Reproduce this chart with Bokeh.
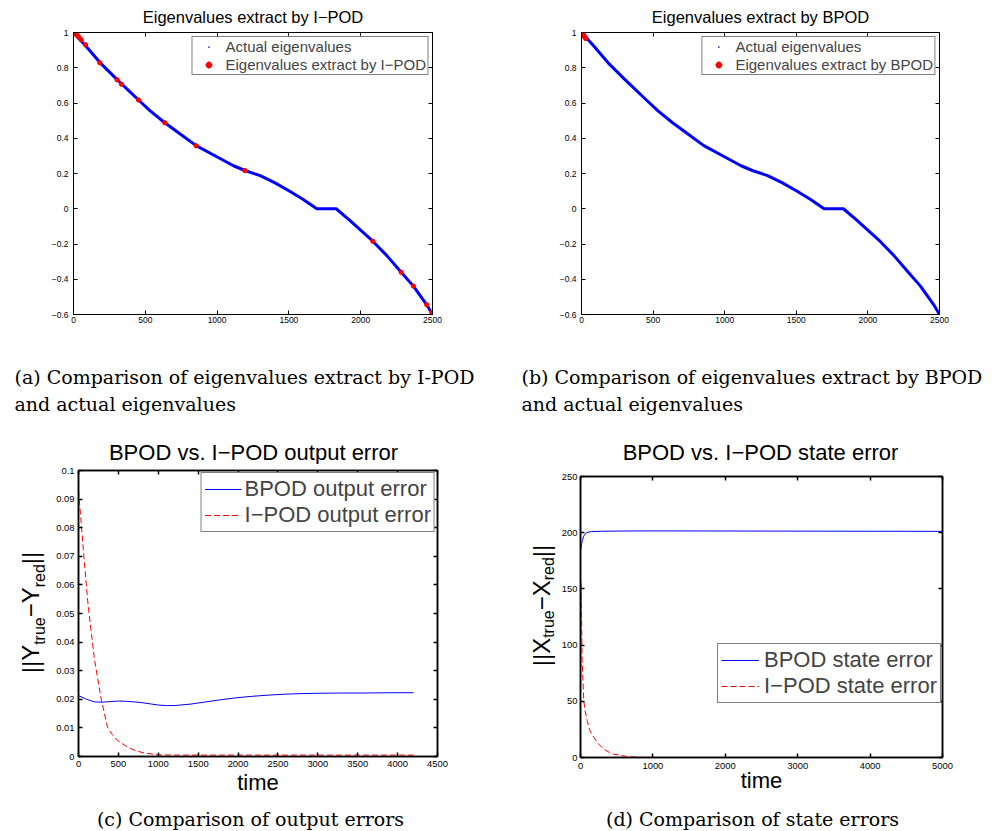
import numpy as np
from bokeh.plotting import figure
from bokeh.layouts import column, row
from bokeh.models import Range1d, LinearAxis, FixedTicker, Label, Legend, LegendItem
from bokeh.embed import file_html
from bokeh.resources import INLINE

SANS = "Liberation Sans"
SERIF = "DejaVu Serif"
BLUE = "#0000ff"
RED = "#ff0000"
BASE_SHIFT = 0.35   # distance (em) from the text-box middle down to the baseline

# ---------------- data: (a)/(b) eigenvalues ----------------
eig_index = [0, 81, 186, 302, 453, 534, 636, 743, 854, 998, 1114, 1193, 1300, 1400, 1500,
             1600, 1694, 1829, 1926, 2084, 2182, 2282, 2367, 2460, 2500]
eig_actual = [1.0, 0.928, 0.828, 0.734, 0.617, 0.555, 0.488, 0.424, 0.358, 0.295, 0.244, 0.217,
              0.188, 0.148, 0.102, 0.052, 0.0, 0.0, -0.068, -0.184, -0.266, -0.360, -0.439,
              -0.545, -0.600]
ipod_index = [2, 14, 26, 37, 54, 84, 183, 304, 334, 453, 636, 854, 1193, 2084, 2282, 2367, 2460, 2495]
ipod_eig = [1.0, 0.993, 0.983, 0.974, 0.959, 0.930, 0.828, 0.732, 0.707, 0.617, 0.488, 0.358,
            0.217, -0.184, -0.360, -0.439, -0.545, -0.587]
bpod_index = [0, 5, 10, 15, 20, 25, 30]
bpod_eig = [1.0, 0.995, 0.990, 0.985, 0.978, 0.972, 0.966]
eig_xticks = [0, 500, 1000, 1500, 2000, 2500]
eig_xlabels = ["0", "500", "1000", "1500", "2000", "2500"]
eig_yticks = [-0.6, -0.4, -0.2, 0.0, 0.2, 0.4, 0.6, 0.8, 1.0]
eig_ylabels = ["\u22120.6", "\u22120.4", "\u22120.2", "0", "0.2", "0.4", "0.6", "0.8", "1"]

# ---------------- data: (c) output error ----------------
out_t_bpod = [0, 100, 200, 300, 400, 500, 600, 700, 800, 900, 1000, 1100, 1200, 1400, 1600,
              1800, 2000, 2200, 2400, 2600, 2800, 3000, 3300, 3600, 3900, 4200]
out_err_bpod = [0.0213, 0.0200, 0.0191, 0.0190, 0.0192, 0.0194, 0.0193, 0.0191, 0.0188, 0.0184,
                0.0180, 0.0178, 0.0178, 0.0183, 0.0191, 0.0199, 0.0206, 0.0211, 0.0215, 0.0218,
                0.0220, 0.0221, 0.0222, 0.0222, 0.0223, 0.0223]
out_t_ipod = [0, 30, 70, 120, 200, 280, 363, 420, 488, 614, 700, 822, 1000, 1200, 1500, 2000,
              2500, 3000, 3500, 4200]
out_err_ipod = [0.093, 0.083, 0.069, 0.053, 0.034, 0.0207, 0.0103, 0.0078, 0.0056, 0.0033,
                0.0022, 0.0012, 0.0006, 0.0005, 0.0005, 0.0005, 0.0005, 0.0005, 0.0005, 0.0005]
out_xticks = [0, 500, 1000, 1500, 2000, 2500, 3000, 3500, 4000, 4500]
out_xlabels = ["0", "500", "1000", "1500", "2000", "2500", "3000", "3500", "4000", "4500"]
out_yticks = [0.0, 0.01, 0.02, 0.03, 0.04, 0.05, 0.06, 0.07, 0.08, 0.09, 0.1]
out_ylabels = ["0", "0.01", "0.02", "0.03", "0.04", "0.05", "0.06", "0.07", "0.08", "0.09", "0.1"]

# ---------------- data: (d) state error ----------------
st_t_bpod = [0, 10, 25, 45, 80, 150, 300, 600, 1000, 2000, 3000, 4000, 5000]
st_err_bpod = [183, 188, 193, 197, 200, 201, 201.3, 201.5, 201.6, 201.5, 201.4, 201.3, 201.2]
st_t_ipod = [0, 6, 12, 22, 45, 60, 91, 130, 183, 250, 320, 400, 458, 540, 618, 700, 801, 1000,
             2000, 3000, 4000, 5000]
st_err_ipod = [0, 157, 140, 87, 51, 43, 33, 24, 18, 12, 7.5, 4.5, 3.0, 2.0, 1.2, 0.6, 0.3, 0.1,
               0.05, 0.05, 0.05, 0.05]
st_xticks = [0, 1000, 2000, 3000, 4000, 5000]
st_xlabels = ["0", "1000", "2000", "3000", "4000", "5000"]
st_yticks = [0, 50, 100, 150, 200, 250]
st_ylabels = ["0", "50", "100", "150", "200", "250"]


def style_axis(ax, ticks, labels, size, standoff, lw, show=True):
    ax.ticker = FixedTicker(ticks=ticks)
    if show:
        ax.major_label_overrides = dict(zip(ticks, labels))
        ax.major_label_text_font = SANS
        ax.major_label_text_font_size = f"{size}px"
        ax.major_label_text_color = "black"
        ax.major_label_standoff = standoff
    else:
        ax.major_label_text_font_size = "1px"
        ax.major_label_text_color = None
        ax.major_label_standoff = 0
    ax.major_tick_in = 4
    ax.major_tick_out = 0
    ax.minor_tick_line_color = None
    ax.axis_line_color = "black"
    ax.major_tick_line_color = "black"
    ax.axis_line_width = lw
    ax.major_tick_line_width = lw


def panel(fig_px, fig_py, fig_w, fig_h, frame, xr, yr, xt, xl, yt, yl, tsize, xs, ys, lw):
    fl, ft, fw, fh = frame
    p = figure(width=fig_w, height=fig_h, x_range=Range1d(*xr), y_range=Range1d(*yr),
               title=None, toolbar_location=None, output_backend="svg", frame_align=False,
               min_border_left=fl - fig_px, min_border_top=ft - fig_py,
               min_border_right=fig_px + fig_w - fl - fw,
               min_border_bottom=fig_py + fig_h - ft - fh)
    p.xgrid.grid_line_color = None
    p.ygrid.grid_line_color = None
    p.outline_line_color = "black"
    p.outline_line_width = lw
    p.background_fill_color = "white"
    p.border_fill_color = "white"
    style_axis(p.below[0], xt, xl, tsize, xs, lw)
    style_axis(p.left[0], yt, yl, tsize, ys, lw)
    top = LinearAxis()
    style_axis(top, xt, xl, tsize, 0, lw, show=False)
    p.add_layout(top, "above")
    right = LinearAxis()
    style_axis(right, yt, yl, tsize, 0, lw, show=False)
    p.add_layout(right, "right")
    return p


def x_title(p, text, standoff):
    ax = p.below[0]
    ax.axis_label = text
    ax.axis_label_text_font = SANS
    ax.axis_label_text_font_size = "22px"
    ax.axis_label_text_font_style = "normal"
    ax.axis_label_text_color = "black"
    ax.axis_label_standoff = standoff


def text_fig(x0, y0, w, h, items):
    """A blank strip whose data coordinates equal page pixels (y downward).
    Items give the text baseline position; the label is anchored at its middle."""
    p = figure(width=w, height=h, x_range=Range1d(x0, x0 + w), y_range=Range1d(y0 + h, y0),
               x_axis_type=None, y_axis_type=None, title=None, toolbar_location=None,
               output_backend="svg", min_border=0, frame_align=False)
    p.outline_line_color = None
    p.background_fill_color = "white"
    p.border_fill_color = "white"
    for px, py, s, size, font, align, angle in items:
        if angle == 0.0:
            lx, ly = px, py - BASE_SHIFT * size
        else:
            lx, ly = px - BASE_SHIFT * size, py
        p.add_layout(Label(x=lx, y=ly, text=s, text_font=font, text_font_size=f"{size}px",
                           text_align=align, text_baseline="middle", angle=angle,
                           text_color="black"))
    return p


def ylabel_items(base_x, sub_x, center_y, ch, size=24, sub=16):
    parts = [("||" + ch, size, base_x, 1.187), ("true", sub, sub_x, 1.723),
             ("\u2212" + ch, size, base_x, 1.251), ("red", sub, sub_x, 1.445),
             ("||", size, base_x, 0.52)]
    total = sum(w * s for _, s, _, w in parts)
    y = center_y + total / 2
    items = []
    for s, fs, bx, w in parts:
        items.append((bx, y, s, fs, SANS, "left", np.pi / 2))
        y -= w * fs
    return items


def legend(items, **kw):
    base = dict(label_text_font=SANS, border_line_color="black",
                background_fill_color="white", background_fill_alpha=1)
    base.update(kw)
    return Legend(items=items, **base)


# ---------------- row 1: titles of (a), (b) ----------------
titles_ab = text_fig(0, 0, 992, 27, [
    (252.5, 22.7, "Eigenvalues extract by I\u2212POD", 16.5, SANS, "center", 0.0),
    (760, 22.7, "Eigenvalues extract by BPOD", 16.5, SANS, "center", 0.0)])

# ---------------- (a) ----------------
pa = panel(0, 27, 496, 313, (73, 32, 359, 282), (0, 2500), (-0.6, 1.0),
           eig_xticks, eig_xlabels, eig_yticks, eig_ylabels, 8.5, 2, 5, 1)
pa.line(eig_index, eig_actual, line_color=BLUE, line_width=3)
ra_dots = pa.scatter(eig_index, eig_actual, marker="dot", size=6, color=BLUE)
ra_ext = pa.scatter(ipod_index, ipod_eig, marker="asterisk", size=5, line_color=RED, line_width=2)
pa.add_layout(legend([LegendItem(label="Actual eigenvalues", renderers=[ra_dots]),
                      LegendItem(label="Eigenvalues extract by I\u2212POD", renderers=[ra_ext])],
                     location="top_right", margin=4, padding=1, spacing=1, label_height=17,
                     glyph_height=17, glyph_width=30, label_standoff=2,
                     label_text_font_size="15px", border_line_width=1))

# ---------------- (b) ----------------
pb = panel(496, 27, 496, 313, (581, 32, 358, 282), (0, 2500), (-0.6, 1.0),
           eig_xticks, eig_xlabels, eig_yticks, eig_ylabels, 8.5, 2, 5, 1)
pb.line(eig_index, eig_actual, line_color=BLUE, line_width=3)
rb_dots = pb.scatter(eig_index, eig_actual, marker="dot", size=6, color=BLUE)
rb_ext = pb.scatter(bpod_index, bpod_eig, marker="asterisk", size=5, line_color=RED, line_width=2)
pb.add_layout(legend([LegendItem(label="Actual eigenvalues", renderers=[rb_dots]),
                      LegendItem(label="Eigenvalues extract by BPOD", renderers=[rb_ext])],
                     location="top_right", margin=4, padding=1, spacing=1, label_height=17,
                     glyph_height=17, glyph_width=30, label_standoff=2,
                     label_text_font_size="15px", border_line_width=1))

# ---------------- row 3: captions (a), (b) ----------------
caps_ab = text_fig(0, 340, 992, 90, [
    (14, 383, "(a) Comparison of eigenvalues extract by I-POD", 19, SERIF, "left", 0.0),
    (14, 410, "and actual eigenvalues", 19, SERIF, "left", 0.0),
    (521, 383, "(b) Comparison of eigenvalues extract by BPOD", 19, SERIF, "left", 0.0),
    (521, 410, "and actual eigenvalues", 19, SERIF, "left", 0.0)])

# ---------------- row 4: titles of (c), (d) ----------------
titles_cd = text_fig(0, 430, 992, 34, [
    (253, 459.5, "BPOD vs. I\u2212POD output error", 22, SANS, "center", 0.0),
    (760, 460, "BPOD vs. I\u2212POD state error", 22, SANS, "center", 0.0)])

# ---------------- (c) ----------------
ylab_c = text_fig(0, 464, 48, 341, ylabel_items(38, 45, 612, "Y"))
pc = panel(48, 464, 448, 341, (78, 470, 359, 286), (0, 4500), (0, 0.1),
           out_xticks, out_xlabels, out_yticks, out_ylabels, 9.4, 4, 4, 1.5)
x_title(pc, "time", 0)
rc_b = pc.line(out_t_bpod, out_err_bpod, line_color=BLUE, line_width=1)
rc_i = pc.line(out_t_ipod, out_err_ipod, line_color=RED, line_width=1, line_dash="6 3")
pc.add_layout(legend([LegendItem(label="BPOD output error", renderers=[rc_b]),
                      LegendItem(label="I\u2212POD output error", renderers=[rc_i])],
                     location="top_right", margin=2, padding=3, spacing=0, label_height=24,
                     glyph_height=24, glyph_width=37, label_standoff=3,
                     label_text_font_size="22px", border_line_width=1.5))

# ---------------- (d) ----------------
ylab_d = text_fig(496, 464, 62, 341, ylabel_items(549, 554, 605, "X"))
pd_ = panel(558, 464, 434, 341, (578, 476, 364, 281), (0, 5000), (0, 250),
            st_xticks, st_xlabels, st_yticks, st_ylabels, 9.4, 5, 3, 1.5)
x_title(pd_, "time", -4)
rd_b = pd_.line(st_t_bpod, st_err_bpod, line_color=BLUE, line_width=1)
rd_i = pd_.line(st_t_ipod, st_err_ipod, line_color=RED, line_width=1, line_dash="6 3")
pd_.add_layout(legend([LegendItem(label="BPOD state error", renderers=[rd_b]),
                       LegendItem(label="I\u2212POD state error", renderers=[rd_i])],
                      location=(137, 54), padding=3, spacing=0, label_height=24,
                      glyph_height=24, glyph_width=38, label_standoff=5,
                      label_text_font_size="22px", border_line_width=1.5))

# ---------------- row 6: captions (c), (d) ----------------
bottom = text_fig(0, 805, 992, 26, [
    (250, 825, "(c) Comparison of output errors", 19, SERIF, "center", 0.0),
    (752, 825, "(d) Comparison of state errors", 19, SERIF, "center", 0.0)])

layout = column(titles_ab, row(pa, pb), caps_ab, titles_cd,
                row(ylab_c, pc, ylab_d, pd_), bottom)
open("out.html", "w").write(file_html(layout, INLINE))
